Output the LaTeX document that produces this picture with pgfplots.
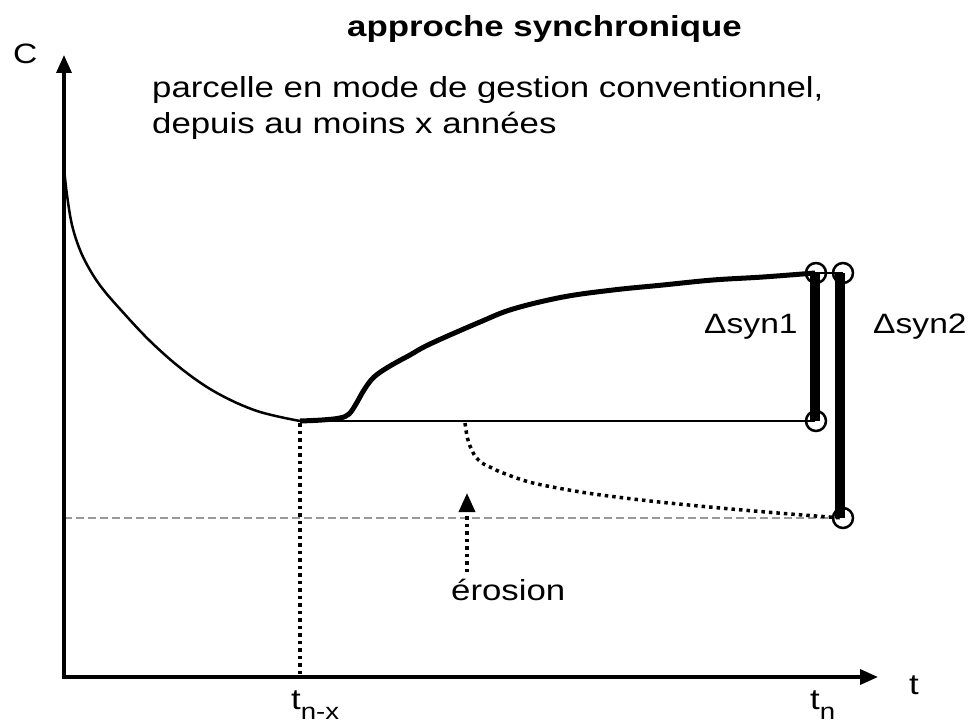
\documentclass[border=0pt]{standalone}
\usepackage{fontspec}
\setmainfont[FakeStretch=1.2]{Liberation Sans}
\usepackage{pgfplots}
\pgfplotsset{compat=1.18}
\usetikzlibrary{arrows.meta}
\definecolor{dashgray}{HTML}{999999}
\begin{document}
\begin{tikzpicture}
\begin{axis}[
  width=972bp, height=727bp, scale only axis,
  xmin=0, xmax=972, ymin=0, ymax=727, y dir=reverse,
  axis lines=none, ticks=none, clip=false,
]
% gray dashed reference level
\addplot[dashgray, line width=1.5bp, dash pattern=on 8bp off 4bp] coordinates {(64,518) (843,518)};
% axes
\addplot[black, line width=3.5bp, -{Triangle[length=18bp,width=15bp]}] coordinates {(64,679) (64,55)};
\addplot[black, line width=3.5bp, -{Triangle[length=18bp,width=15bp]}] coordinates {(62,677) (878,677)};
% initial decreasing curve
\addplot[black, line width=2.5bp, smooth, tension=0.6] coordinates {
 (64,168) (67,195) (72,225) (80,250) (90,270) (102,288) (120,309) (150,341) (183,370) (217,393) (257,411) (300,421)};
% conventional horizontal line
\addplot[black, line width=2.5bp] coordinates {(300,421) (815,421)};
% rising thick curve
\addplot[black, line width=5bp, smooth, tension=0.6] coordinates {
 (300,421) (322,420) (340,418) (349,414) (356,404) (364,390) (374,377) (390,366) (410,355) (430,344) (480,322) (513,309) (563,297) (613,290) (663,285) (713,280) (763,277) (815,273)};
\addplot[black, line width=2.5bp] coordinates {(815,273) (843,273)};
% erosion dotted curve
\addplot[black, line width=3.5bp, dash pattern=on 3.5bp off 4bp, smooth, tension=0.5] coordinates {
 (465,423) (467,436) (470,446) (475,456) (482,463) (492,468) (503,473) (533,483) (587,493) (650,501) (720,508) (790,514) (843,518)};
% dotted vertical at t_{n-x}
\addplot[black, line width=3.5bp, dash pattern=on 3.5bp off 4bp] coordinates {(300,423) (300,677)};
% erosion arrow
\addplot[black, line width=3.5bp, dash pattern=on 3.5bp off 4bp, -{Triangle[length=19bp,width=16bp]}] coordinates {(467,572) (467,493)};
% Delta bars
\addplot[black, line width=10bp] coordinates {(815,273) (815,421)};
\addplot[black, line width=10bp] coordinates {(840,273) (840,518)};
% end circles
\addplot[black, only marks, mark=o, mark size=10bp, mark options={line width=2.5bp}] coordinates {(816,273) (816,421) (843,273) (843,518)};
% texts
\node[anchor=base west, inner sep=0] at (axis cs:347,37) {\fontsize{29bp}{34bp}\selectfont\bfseries approche synchronique};
\node[anchor=base west, inner sep=0] at (axis cs:152,98) {\fontsize{29bp}{34bp}\selectfont parcelle en mode de gestion conventionnel,};
\node[anchor=base west, inner sep=0] at (axis cs:152,134) {\fontsize{29bp}{34bp}\selectfont depuis au moins x années};
\node[anchor=base west, inner sep=0] at (axis cs:13,64) {\fontsize{28bp}{34bp}\selectfont C};
\node[anchor=base west, inner sep=0] at (axis cs:909,694) {\fontsize{29bp}{34bp}\selectfont t};
\node[anchor=base west, inner sep=0] at (axis cs:291,709) {\fontsize{29bp}{34bp}\selectfont t\raisebox{-10bp}{\fontsize{23bp}{24bp}\selectfont n-x}};
\node[anchor=base west, inner sep=0] at (axis cs:810,709) {\fontsize{29bp}{34bp}\selectfont t\raisebox{-10bp}{\fontsize{23bp}{24bp}\selectfont n}};
\node[anchor=base west, inner sep=0] at (axis cs:704,333) {\fontsize{28bp}{34bp}\selectfont Δsyn1};
\node[anchor=base west, inner sep=0] at (axis cs:873,333) {\fontsize{28bp}{34bp}\selectfont Δsyn2};
\node[anchor=base west, inner sep=0] at (axis cs:451,600) {\fontsize{29bp}{34bp}\selectfont érosion};
\end{axis}
\pgfresetboundingbox
\path (current axis.south west) rectangle (current axis.north east);
\end{tikzpicture}
\end{document}
